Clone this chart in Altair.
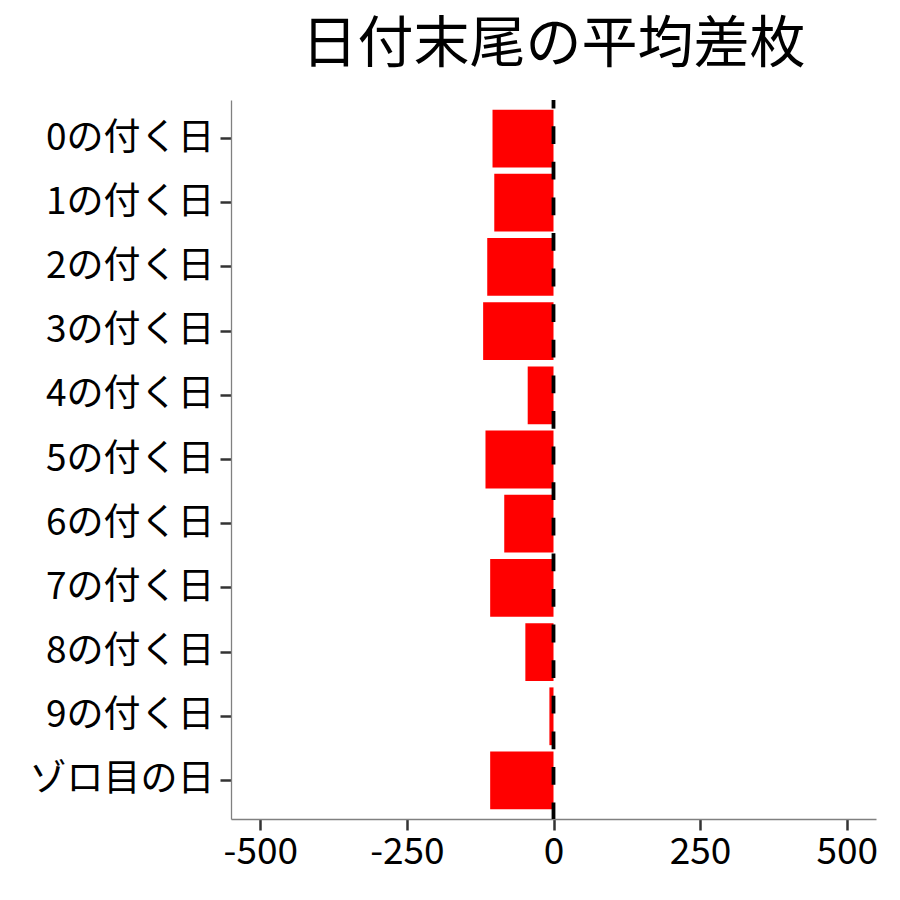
import altair as alt
import pandas as pd

categories = ["0の付く日", "1の付く日", "2の付く日", "3の付く日", "4の付く日",
              "5の付く日", "6の付く日", "7の付く日", "8の付く日", "9の付く日", "ゾロ目の日"]
values = [-104, -101, -113, -120, -44, -116, -84, -108, -48, -7, -108]
x_ticks = [-500, -250, 0, 250, 500]

df = pd.DataFrame({"cat": categories, "val": values})

W, H = 645, 719
FONT = "Noto Sans CJK JP"

bars = alt.Chart(df).mark_bar(color="#FF0000").encode(
    y=alt.Y("cat:N", sort=categories, title=None,
            scale=alt.Scale(paddingInner=0.1, paddingOuter=0.15),
            axis=alt.Axis(labelFontSize=37, labelColor="black", labelFont=FONT, labelLimit=400,
                          labelPadding=6, tickSize=11, tickWidth=2.5, tickColor="#333333",
                          domainColor="#808080", domainWidth=1.3)),
    x=alt.X("val:Q", title=None,
            scale=alt.Scale(domain=[-550, 550], nice=False, zero=False),
            axis=alt.Axis(values=x_ticks, labelFontSize=37, labelColor="black", labelFont=FONT,
                          labelExpr="'' + datum.value",
                          labelPadding=4, tickSize=11, tickWidth=2.5, tickColor="#333333",
                          domainColor="#808080", domainWidth=1.3, grid=False,
                          labelFlush=False, labelOverlap=False)),
)

rule = alt.Chart(pd.DataFrame({"z": [0]})).mark_rule(
    color="black", strokeWidth=3.8, strokeDash=[17.8, 17.8], strokeDashOffset=9.4
).encode(
    x="z:Q",
    y=alt.value(0),
    y2=alt.value(H),
)

chart = alt.layer(bars, rule).properties(
    width=W, height=H,
    title=alt.TitleParams("日付末尾の平均差枚", fontSize=56, font=FONT, fontWeight="normal",
                          color="black", anchor="middle", offset=24),
    autosize=alt.AutoSizeParams(type="none"),
    padding={"left": 223, "top": 92, "right": 16, "bottom": 60},
).configure(background="white").configure_view(stroke=None, strokeWidth=0)

chart.save("out.html", embed_options={"renderer": "svg", "actions": False})
